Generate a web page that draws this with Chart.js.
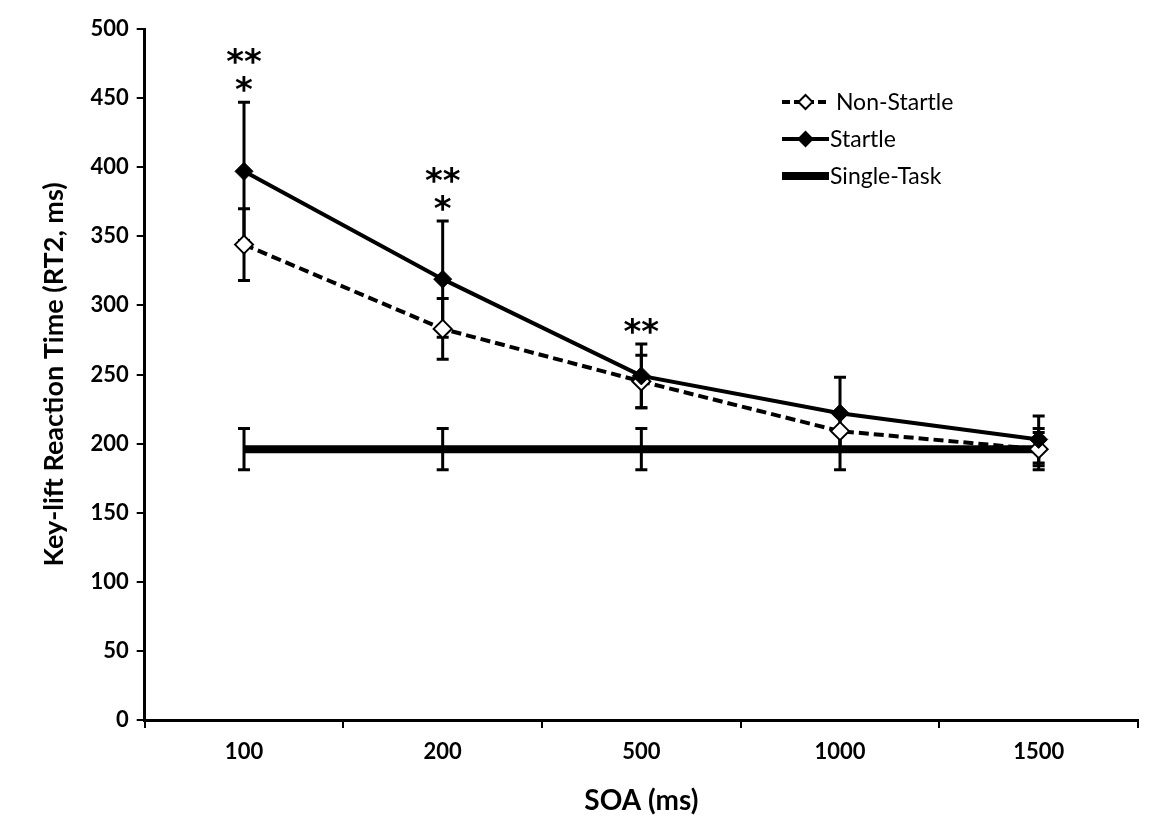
<!DOCTYPE html>
<html>
<head>
<meta charset="utf-8">
<script src="https://cdn.jsdelivr.net/npm/chart.js@4.4.1/dist/chart.umd.min.js"></script>
<style>
  html, body { margin: 0; padding: 0; background: #fff; }
  #wrap { width: 1149px; height: 833px; position: relative; }
</style>
</head>
<body>
<div id="wrap"><canvas id="rtChart"></canvas></div>
<script>
// SOA categories and mean RT2 (ms) with error bars
const soaLabels = ['100', '200', '500', '1000', '1500'];
const nonStartle = [344, 283, 245, 209, 196];
const nonStartleErr = [26, 22, 19, 14, 12];
const startle = [397, 319, 249, 222, 203];
const startleErr = [50, 42, 23, 26, 17];
const singleTask = [196, 196, 196, 196, 196];
const singleTaskErr = [15, 15, 15, 15, 15];
const sigMarks = [['*', '**'], ['*', '**'], ['**'], [], []];  // bottom-up, above startle error bar
const yTicks = [0, 50, 100, 150, 200, 250, 300, 350, 400, 450, 500];

const FONT = "Lato, 'Open Sans', sans-serif";
const errors = [nonStartleErr, startleErr, singleTaskErr];

/* error bars under the markers */
const errorBarPlugin = {
  id: 'errorBars',
  beforeDatasetsDraw(chart) {
    const { ctx, scales: { x, y } } = chart;
    ctx.save();
    ctx.strokeStyle = '#000';
    ctx.lineWidth = 3;
    chart.data.datasets.forEach((ds, di) => {
      ds.data.forEach((v, i) => {
        const px = x.getPixelForValue(i);
        const top = y.getPixelForValue(v + errors[di][i]);
        const bot = y.getPixelForValue(v - errors[di][i]);
        ctx.beginPath();
        ctx.moveTo(px, top); ctx.lineTo(px, bot);
        ctx.moveTo(px - 6, top); ctx.lineTo(px + 6, top);
        ctx.moveTo(px - 6, bot); ctx.lineTo(px + 6, bot);
        ctx.stroke();
      });
    });
    ctx.restore();
  }
};

/* significance asterisks + legend */
const overlayPlugin = {
  id: 'overlay',
  afterDraw(chart) {
    const { ctx, scales: { x, y } } = chart;
    ctx.save();
    ctx.fillStyle = '#000';
    ctx.textAlign = 'center';
    ctx.textBaseline = 'middle';
    ctx.font = "bold 34px 'DejaVu Sans'";
    sigMarks.forEach((marks, i) => {
      const px = x.getPixelForValue(i);
      const cap = y.getPixelForValue(startle[i] + startleErr[i]);
      marks.forEach((m, k) => {
        ctx.fillText(m, px, cap - 10 - k * 28);
      });
    });

    // legend
    const items = [
      { label: ' Non-Startle', dash: [8, 4], width: 4, marker: 'open' },
      { label: 'Startle', dash: [], width: 4, marker: 'filled' },
      { label: 'Single-Task', dash: [], width: 8, marker: null }
    ];
    const lx0 = 782, lx1 = 829, rowY = [102, 139, 176];
    ctx.textAlign = 'left';
    ctx.font = "23px " + FONT;
    items.forEach((it, k) => {
      const yy = rowY[k];
      ctx.strokeStyle = '#000';
      ctx.lineWidth = it.width;
      ctx.setLineDash(it.dash);
      ctx.beginPath(); ctx.moveTo(lx0, yy); ctx.lineTo(lx1, yy); ctx.stroke();
      ctx.setLineDash([]);
      if (it.marker) {
        const cx = (lx0 + lx1) / 2, r = 7;
        ctx.beginPath();
        ctx.moveTo(cx, yy - r); ctx.lineTo(cx + r, yy); ctx.lineTo(cx, yy + r); ctx.lineTo(cx - r, yy); ctx.closePath();
        ctx.fillStyle = it.marker === 'open' ? '#fff' : '#000';
        ctx.fill();
        ctx.lineWidth = 2;
        ctx.stroke();
      }
      ctx.fillStyle = '#000';
      ctx.fillText(it.label, lx1 + 1, yy + 1);
    });
    ctx.restore();
  }
};

new Chart(document.getElementById('rtChart'), {
  type: 'line',
  data: {
    labels: soaLabels,
    datasets: [
      {
        label: 'Non-Startle', data: nonStartle, order: 1,
        borderColor: '#000', borderWidth: 4, borderDash: [10, 5],
        pointStyle: 'rectRot', pointRadius: 9, pointBackgroundColor: '#fff',
        pointBorderColor: '#000', pointBorderWidth: 2, tension: 0
      },
      {
        label: 'Startle', data: startle, order: 0,
        borderColor: '#000', borderWidth: 4,
        pointStyle: 'rectRot', pointRadius: 9, pointBackgroundColor: '#000',
        pointBorderColor: '#000', pointBorderWidth: 1, tension: 0
      },
      {
        label: 'Single-Task', data: singleTask, order: 2,
        borderColor: '#000', borderWidth: 8, pointRadius: 0, tension: 0
      }
    ]
  },
  options: {
    responsive: true, maintainAspectRatio: false, animation: false,
    layout: { padding: { top: 29, right: 2, left: 34, bottom: 11 } },
    plugins: { legend: { display: false }, tooltip: { enabled: false } },
    scales: {
      x: {
        offset: true,
        grid: { display: true, offset: true, drawOnChartArea: false, color: '#000', lineWidth: 2, tickLength: 8 },
        border: { color: '#000', width: 3 },
        ticks: { color: '#000', padding: 11, font: { size: 22, weight: 'bold', family: FONT } },
        title: { display: true, text: 'SOA (ms)', color: '#000', padding: { top: 8 }, font: { size: 28, weight: 'bold', family: FONT } }
      },
      y: {
        min: 0, max: 500,
        afterBuildTicks: axis => { axis.ticks = yTicks.map(v => ({ value: v })); },
        grid: { display: true, drawOnChartArea: false, color: '#000', lineWidth: 2, tickLength: 8 },
        border: { color: '#000', width: 3 },
        ticks: { color: '#000', padding: 8, font: { size: 22, weight: 'bold', family: FONT } },
        title: { display: true, text: 'Key-lift Reaction Time (RT2, ms)', color: '#000', padding: { bottom: 12 }, font: { size: 27, weight: 'bold', family: FONT } }
      }
    }
  },
  plugins: [errorBarPlugin, overlayPlugin]
});
</script>
</body>
</html>
